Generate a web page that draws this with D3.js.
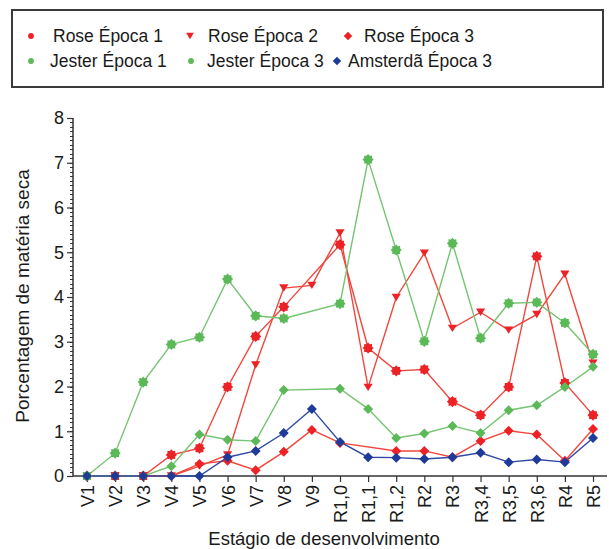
<!DOCTYPE html>
<html>
<head>
<meta charset="utf-8">
<script src="https://cdn.jsdelivr.net/npm/d3@7"></script>
<style>
  html, body { margin: 0; padding: 0; background: #fff; }
  svg { display: block; font-family: "Liberation Sans", Arial, sans-serif; }
</style>
</head>
<body>
<svg id="chart" width="609" height="549"></svg>
<script>
// Growth stages on the x axis
const stages = ["V1","V2","V3","V4","V5","V6","V7","V8","V9","R1,0","R1,1","R1,2","R2","R3","R3,4","R3,5","R3,6","R4","R5"];
const yTicks = [0,1,2,3,4,5,6,7,8];

// Dry-matter percentage per stage (null = not sampled)
const roseEpoca1    = [0,0,0,0.47,0.62,1.99,3.12,3.78,null,5.17,2.86,2.35,2.38,1.66,1.36,1.99,4.91,2.08,1.36];
const roseEpoca2    = [0,0,0,0,0.22,0.47,2.48,4.2,4.26,5.43,1.98,3.99,4.98,3.3,3.66,3.26,3.61,4.51,2.52];
const roseEpoca3    = [0,0,0,0,0.27,0.34,0.13,0.54,1.03,0.74,null,0.56,0.56,0.42,0.78,1.01,0.93,0.34,1.05];
const jesterEpoca1  = [0,0.51,2.1,2.94,3.1,4.4,3.58,3.52,null,3.85,7.07,5.05,3.01,5.2,3.08,3.86,3.88,3.42,2.72];
const jesterEpoca3  = [0,0,0,0.22,0.93,0.81,0.78,1.92,null,1.95,1.5,0.85,0.95,1.12,0.96,1.47,1.58,1.99,2.44];
const amsterdaEpoca3= [0,0,0,0,0,0.42,0.56,0.96,1.5,0.76,0.42,0.41,0.38,0.42,0.52,0.31,0.37,0.31,0.85];

const RED = "#ec2227", RED_LINE = "#f0473d";
const GREEN = "#5cb958", GREEN_LINE = "#74c470";
const BLUE = "#1f3b99", BLUE_LINE = "#3049a3";

const series = [
  { name: "Rose Época 1",     values: roseEpoca1,     color: RED,   line: RED_LINE,   shape: "burst",    legendShape: "circle" },
  { name: "Rose Época 2",     values: roseEpoca2,     color: RED,   line: RED_LINE,   shape: "triangle", legendShape: "triangle" },
  { name: "Rose Época 3",     values: roseEpoca3,     color: RED,   line: RED_LINE,   shape: "diamond",  legendShape: "diamond" },
  { name: "Jester Época 1",   values: jesterEpoca1,   color: GREEN, line: GREEN_LINE, shape: "burst",    legendShape: "circle" },
  { name: "Jester Época 3",   values: jesterEpoca3,   color: GREEN, line: GREEN_LINE, shape: "diamond",  legendShape: "circle" },
  { name: "Amsterdã Época 3", values: amsterdaEpoca3, color: BLUE,  line: BLUE_LINE,  shape: "diamond",  legendShape: "diamond" }
];

const svg = d3.select("#chart");

// Scales
const x = d3.scalePoint().domain(stages).range([87, 593]);
const y = d3.scaleLinear().domain([0, 8]).range([476, 118]);
const axisLeftX = 73, axisRightX = 607;

// Marker shapes
function markerPath(shape, s) {
  if (shape === "burst") {
    const pts = [], n = 8, ro = 5.6 * s, ri = 4.2 * s;
    for (let i = 0; i < n * 2; i++) {
      const r = i % 2 === 0 ? ro : ri;
      const a = Math.PI * i / n - Math.PI / 2;
      pts.push([r * Math.cos(a), r * Math.sin(a)]);
    }
    return "M" + pts.map(p => p.join(",")).join("L") + "Z";
  }
  if (shape === "triangle") {
    const w = 4.6 * s, h = 7.4 * s;
    return `M${-w},${-h/2}L${w},${-h/2}L0,${h/2}Z`;
  }
  if (shape === "diamond") {
    const r = 5 * s;
    return `M0,${-r}L${r},0L0,${r}L${-r},0Z`;
  }
  // circle
  const r = 3.4 * s;
  return `M${-r},0A${r},${r} 0 1,0 ${r},0A${r},${r} 0 1,0 ${-r},0Z`;
}

// Legend box
const legend = svg.append("g");
legend.append("rect")
  .attr("x", 12).attr("y", 10).attr("width", 591).attr("height", 77)
  .attr("fill", "#fff").attr("stroke", "#3a3a3a").attr("stroke-width", 2);

const legendPos = [
  { mx: 31,  tx: 53,  y: 36 },
  { mx: 190, tx: 208, y: 36 },
  { mx: 348, tx: 364, y: 36 },
  { mx: 31,  tx: 50,  y: 61 },
  { mx: 191, tx: 207, y: 61 },
  { mx: 337, tx: 348, y: 61 }
];
series.forEach((s, i) => {
  const p = legendPos[i];
  legend.append("path")
    .attr("d", markerPath(s.legendShape, 0.85))
    .attr("transform", `translate(${p.mx},${p.y})`)
    .attr("fill", s.color);
  legend.append("text")
    .attr("x", p.tx).attr("y", p.y + 6)
    .attr("font-size", 17.5).attr("fill", "#1a1a1a")
    .text(s.name);
});

// Y axis with minor ticks every 0.1
const yMinor = d3.range(0, 81).map(i => i / 10);
const yAxisG = svg.append("g").attr("transform", `translate(${axisLeftX},0)`);
yAxisG.call(d3.axisLeft(y).tickValues(yMinor).tickSize(3.5).tickFormat(""))
  .call(g => g.select(".domain").remove())
  .selectAll("line").attr("stroke", "#333").attr("stroke-width", 1)
  .attr("shape-rendering", "crispEdges");
const yMajorG = svg.append("g").attr("transform", `translate(${axisLeftX},0)`);
yMajorG.call(d3.axisLeft(y).tickValues(yTicks).tickSize(6).tickPadding(3).tickFormat(d3.format("d")))
  .call(g => g.select(".domain").attr("stroke", "#333").attr("stroke-width", 1.5).attr("d", `M0,${y(8)}V${y(0)}`))
  .call(g => g.selectAll("line").attr("stroke", "#333").attr("stroke-width", 1.2))
  .call(g => g.selectAll("text").attr("font-size", 18).attr("fill", "#1a1a1a")
    .attr("font-family", "Liberation Sans, Arial, sans-serif"));

// X axis
const xAxisG = svg.append("g").attr("transform", `translate(0,${y(0)})`);
xAxisG.call(d3.axisBottom(x).tickSize(6).tickSizeOuter(0))
  .call(g => g.select(".domain").attr("stroke", "#333").attr("stroke-width", 1.5)
    .attr("d", `M${axisLeftX},0H${axisRightX}`))
  .call(g => g.selectAll("line").attr("stroke", "#333").attr("stroke-width", 1.2))
  .call(g => g.selectAll("text")
    .attr("font-size", 18).attr("fill", "#1a1a1a")
    .attr("font-family", "Liberation Sans, Arial, sans-serif")
    .attr("transform", "rotate(-90)")
    .attr("x", -9).attr("y", 0).attr("dy", "0.36em")
    .style("text-anchor", "end"));

// Axis titles
svg.append("text")
  .attr("transform", "translate(29,296) rotate(-90)")
  .attr("text-anchor", "middle").attr("font-size", 19).attr("fill", "#1a1a1a")
  .text("Porcentagem de matéria seca");
svg.append("text")
  .attr("x", 324).attr("y", 545)
  .attr("text-anchor", "middle").attr("font-size", 18.5).attr("fill", "#1a1a1a")
  .text("Estágio de desenvolvimento");

// Series lines and markers
const line = d3.line().x(d => x(d.stage)).y(d => y(d.value));
const plot = svg.append("g");
series.forEach(s => {
  const pts = stages.map((st, i) => ({ stage: st, value: s.values[i] }))
    .filter(d => d.value !== null);
  plot.append("path")
    .datum(pts)
    .attr("d", line)
    .attr("fill", "none")
    .attr("stroke", s.line)
    .attr("stroke-width", 1.4);
});
series.forEach(s => {
  const pts = stages.map((st, i) => ({ stage: st, value: s.values[i] }))
    .filter(d => d.value !== null);
  plot.selectAll(null).data(pts).enter().append("path")
    .attr("d", markerPath(s.shape, 1))
    .attr("transform", d => `translate(${x(d.stage)},${y(d.value)})`)
    .attr("fill", s.color);
});
</script>
</body>
</html>
